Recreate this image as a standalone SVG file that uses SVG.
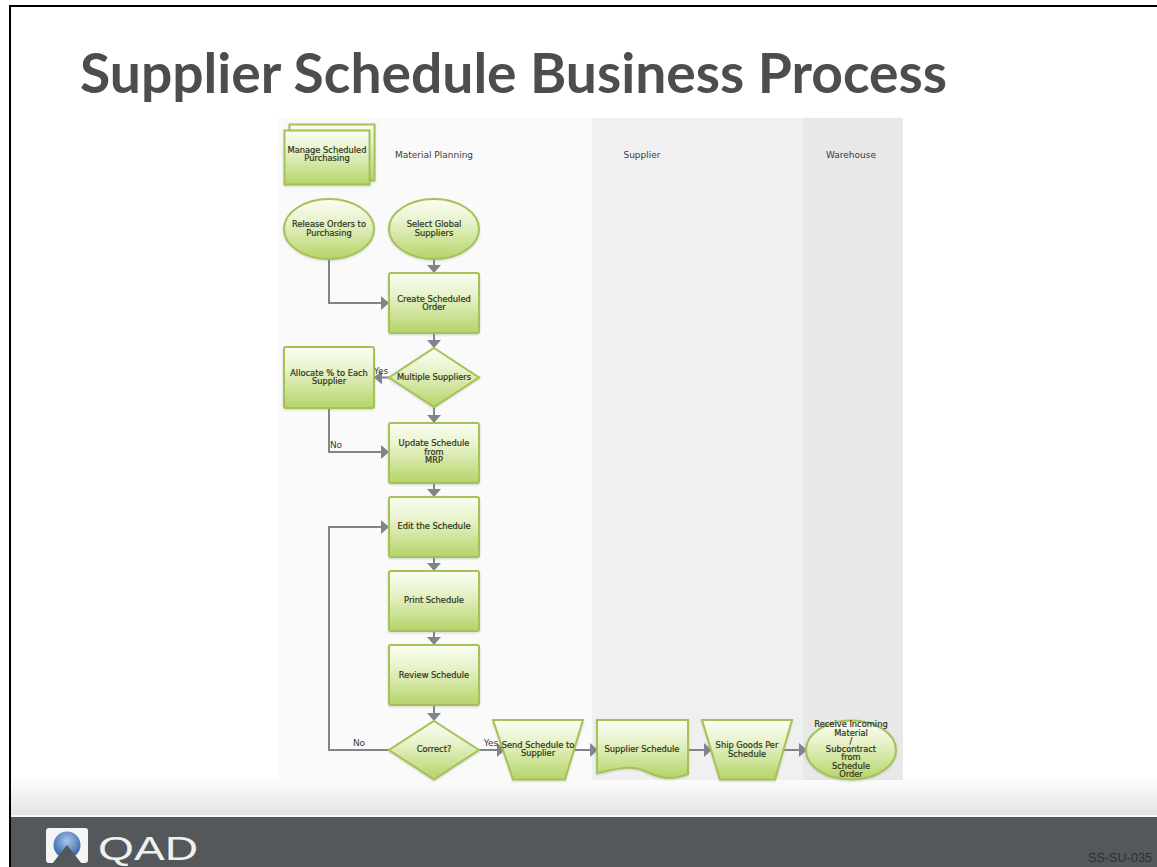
<svg xmlns="http://www.w3.org/2000/svg" width="1157" height="867" viewBox="0 0 1157 867">
<style>
.n{fill:url(#g);stroke:#a5c254;stroke-width:2;filter:url(#s)}
.t{font-family:"DejaVu Sans",sans-serif;font-size:8.3px;fill:#2c3320;text-anchor:middle;stroke:#2c3320;stroke-width:.2}
.l{font-family:"DejaVu Sans",sans-serif;font-size:9px;fill:#3a3a3a;text-anchor:middle}
.c{fill:none;stroke:#80848c;stroke-width:2}
</style>
<defs>
<linearGradient id="g" x1="0" y1="0" x2="0" y2="1"><stop offset="0" stop-color="#fbfdf5"/><stop offset=".35" stop-color="#e9f3cd"/><stop offset="1" stop-color="#b5d468"/></linearGradient>
<linearGradient id="f" x1="0" y1="0" x2="0" y2="1"><stop offset="0" stop-color="#fff"/><stop offset="1" stop-color="#e4e4e4"/></linearGradient>
<radialGradient id="b" cx=".5" cy=".35" r=".6"><stop offset="0" stop-color="#a8c8ee"/><stop offset="1" stop-color="#3a68a8"/></radialGradient>
<filter id="s" x="-10%" y="-10%" width="120%" height="125%"><feDropShadow dx="0" dy="1" stdDeviation="1" flood-color="#888" flood-opacity=".35"/></filter>
<marker id="a" markerUnits="userSpaceOnUse" markerWidth="10" markerHeight="14" refX="8" refY="7" orient="auto"><path d="M0 0L8 7L0 14Z" fill="#80848c"/></marker>
</defs>
<rect width="1157" height="867" fill="#fff"/>
<g id="page-frame">
<rect x="9" y="5" width="1148" height="2" fill="#000"/>
<rect x="9" y="5" width="2" height="862" fill="#000"/>
<rect x="11" y="775" width="1146" height="40" fill="url(#f)"/>
<rect x="11" y="815" width="1146" height="2" fill="#f6f6f6"/>
<rect x="11" y="817" width="1146" height="50" fill="#54585a"/>
</g>
<text id="title" x="80" y="93" font-family="Lato,sans-serif" font-weight="700" font-size="56" fill="#4d4d4f" textLength="867" lengthAdjust="spacingAndGlyphs">Supplier Schedule Business Process</text>
<g id="lanes">
<rect x="277" y="118" width="315" height="662" fill="#fafafa"/>
<rect x="592" y="118" width="211" height="662" fill="#f0f0f0"/>
<rect x="803" y="118" width="100" height="662" fill="#e8e8e8"/>
<text class="l" x="434" y="158">Material Planning</text>
<text class="l" x="642" y="158">Supplier</text>
<text class="l" x="851" y="158">Warehouse</text>
</g>
<g id="connectors">
<path class="c" marker-end="url(#a)" d="M434 259V273"/>
<path class="c" marker-end="url(#a)" d="M329 259V303H389"/>
<path class="c" marker-end="url(#a)" d="M434 333V348"/>
<path class="c" marker-end="url(#a)" d="M389 377.500H374"/>
<path class="c" marker-end="url(#a)" d="M434 407V423"/>
<path class="c" marker-end="url(#a)" d="M329 408V452H389"/>
<path class="c" marker-end="url(#a)" d="M434 483V497"/>
<path class="c" marker-end="url(#a)" d="M434 557V571"/>
<path class="c" marker-end="url(#a)" d="M434 631V645"/>
<path class="c" marker-end="url(#a)" d="M434 705V721"/>
<path class="c" marker-end="url(#a)" d="M389 750H329V527H389"/>
<path class="c" marker-end="url(#a)" d="M479 750H505"/>
<path class="c" marker-end="url(#a)" d="M575 750H598"/>
<path class="c" marker-end="url(#a)" d="M688 750H712"/>
<path class="c" marker-end="url(#a)" d="M783 750H807"/>
<text class="l" x="381" y="374">Yes</text>
<text class="l" x="336" y="448">No</text>
<text class="l" x="359" y="746">No</text>
<text class="l" x="491" y="746">Yes</text>
</g>
<g id="manage"><rect class="n" x="289.500" y="124.500" width="85" height="56"/><rect class="n" x="284.500" y="130.500" width="85" height="54"/>
<text class="t" x="327" y="153">Manage Scheduled</text><text class="t" x="327" y="161">Purchasing</text></g>
<g id="release"><ellipse class="n" cx="329" cy="229" rx="45" ry="30"/>
<text class="t" x="329" y="227">Release Orders to</text><text class="t" x="329" y="235.500">Purchasing</text></g>
<g id="select"><ellipse class="n" cx="434" cy="229" rx="45" ry="30"/>
<text class="t" x="434" y="227">Select Global</text><text class="t" x="434" y="235.500">Suppliers</text></g>
<g id="create"><rect class="n" x="389" y="273" width="90" height="60" rx="2"/>
<text class="t" x="434" y="301.500">Create Scheduled</text><text class="t" x="434" y="310">Order</text></g>
<g id="multiple"><path class="n" d="M434 348L479 377.500L434 407L389 377.500Z"/>
<text class="t" x="434" y="380">Multiple Suppliers</text></g>
<g id="allocate"><rect class="n" x="284" y="347" width="90" height="61" rx="2"/>
<text class="t" x="329" y="376">Allocate % to Each</text><text class="t" x="329" y="384">Supplier</text></g>
<g id="update"><rect class="n" x="389" y="423" width="90" height="60" rx="2"/>
<text class="t" x="434" y="446">Update Schedule</text><text class="t" x="434" y="454.500">from</text><text class="t" x="434" y="463">MRP</text></g>
<g id="edit"><rect class="n" x="389" y="497" width="90" height="60" rx="2"/>
<text class="t" x="434" y="529">Edit the Schedule</text></g>
<g id="print"><rect class="n" x="389" y="571" width="90" height="60" rx="2"/>
<text class="t" x="434" y="603">Print Schedule</text></g>
<g id="review"><rect class="n" x="389" y="645" width="90" height="60" rx="2"/>
<text class="t" x="434" y="678">Review Schedule</text></g>
<g id="correct"><path class="n" d="M434 721L479 750L434 779.500L389 750Z"/>
<text class="t" x="434" y="752">Correct?</text></g>
<g id="send"><path class="n" d="M493 720H583L565 779.500H513Z"/>
<text class="t" x="538" y="748">Send Schedule to</text><text class="t" x="538" y="756">Supplier</text></g>
<g id="schedule"><path class="n" d="M597 720H688V774C670 781 660 778 645 771C630 764 612 770 597 773Z"/>
<text class="t" x="642" y="752">Supplier Schedule</text></g>
<g id="ship"><path class="n" d="M702 720H792L775 779.500H720Z"/>
<text class="t" x="747" y="748">Ship Goods Per</text><text class="t" x="747" y="756.500">Schedule</text></g>
<g id="receive"><ellipse class="n" cx="851" cy="750" rx="45" ry="29.500"/>
<text class="t" x="851" y="727">Receive Incoming</text><text class="t" x="851" y="735.500">Material</text><text class="t" x="851" y="743.500">/</text><text class="t" x="851" y="752">Subcontract</text><text class="t" x="851" y="760">from</text><text class="t" x="851" y="768.500">Schedule</text><text class="t" x="851" y="777">Order</text></g>
<g id="logo">
<rect x="46" y="828" width="42" height="35" rx="3" fill="#f4f4f4"/>
<circle cx="67" cy="845" r="13.500" fill="url(#b)"/>
<path d="M52 864L67 845L82 864Z" fill="#54585a"/>
<text x="98" y="860" font-family="'Liberation Sans',sans-serif" font-size="33" fill="#f0f0f0" textLength="100" lengthAdjust="spacingAndGlyphs">QAD</text>
</g>
<text id="code" x="1088" y="862" font-family="'Liberation Sans',sans-serif" font-size="13" fill="#2d3032" textLength="64" lengthAdjust="spacingAndGlyphs">SS-SU-035</text>
</svg>
